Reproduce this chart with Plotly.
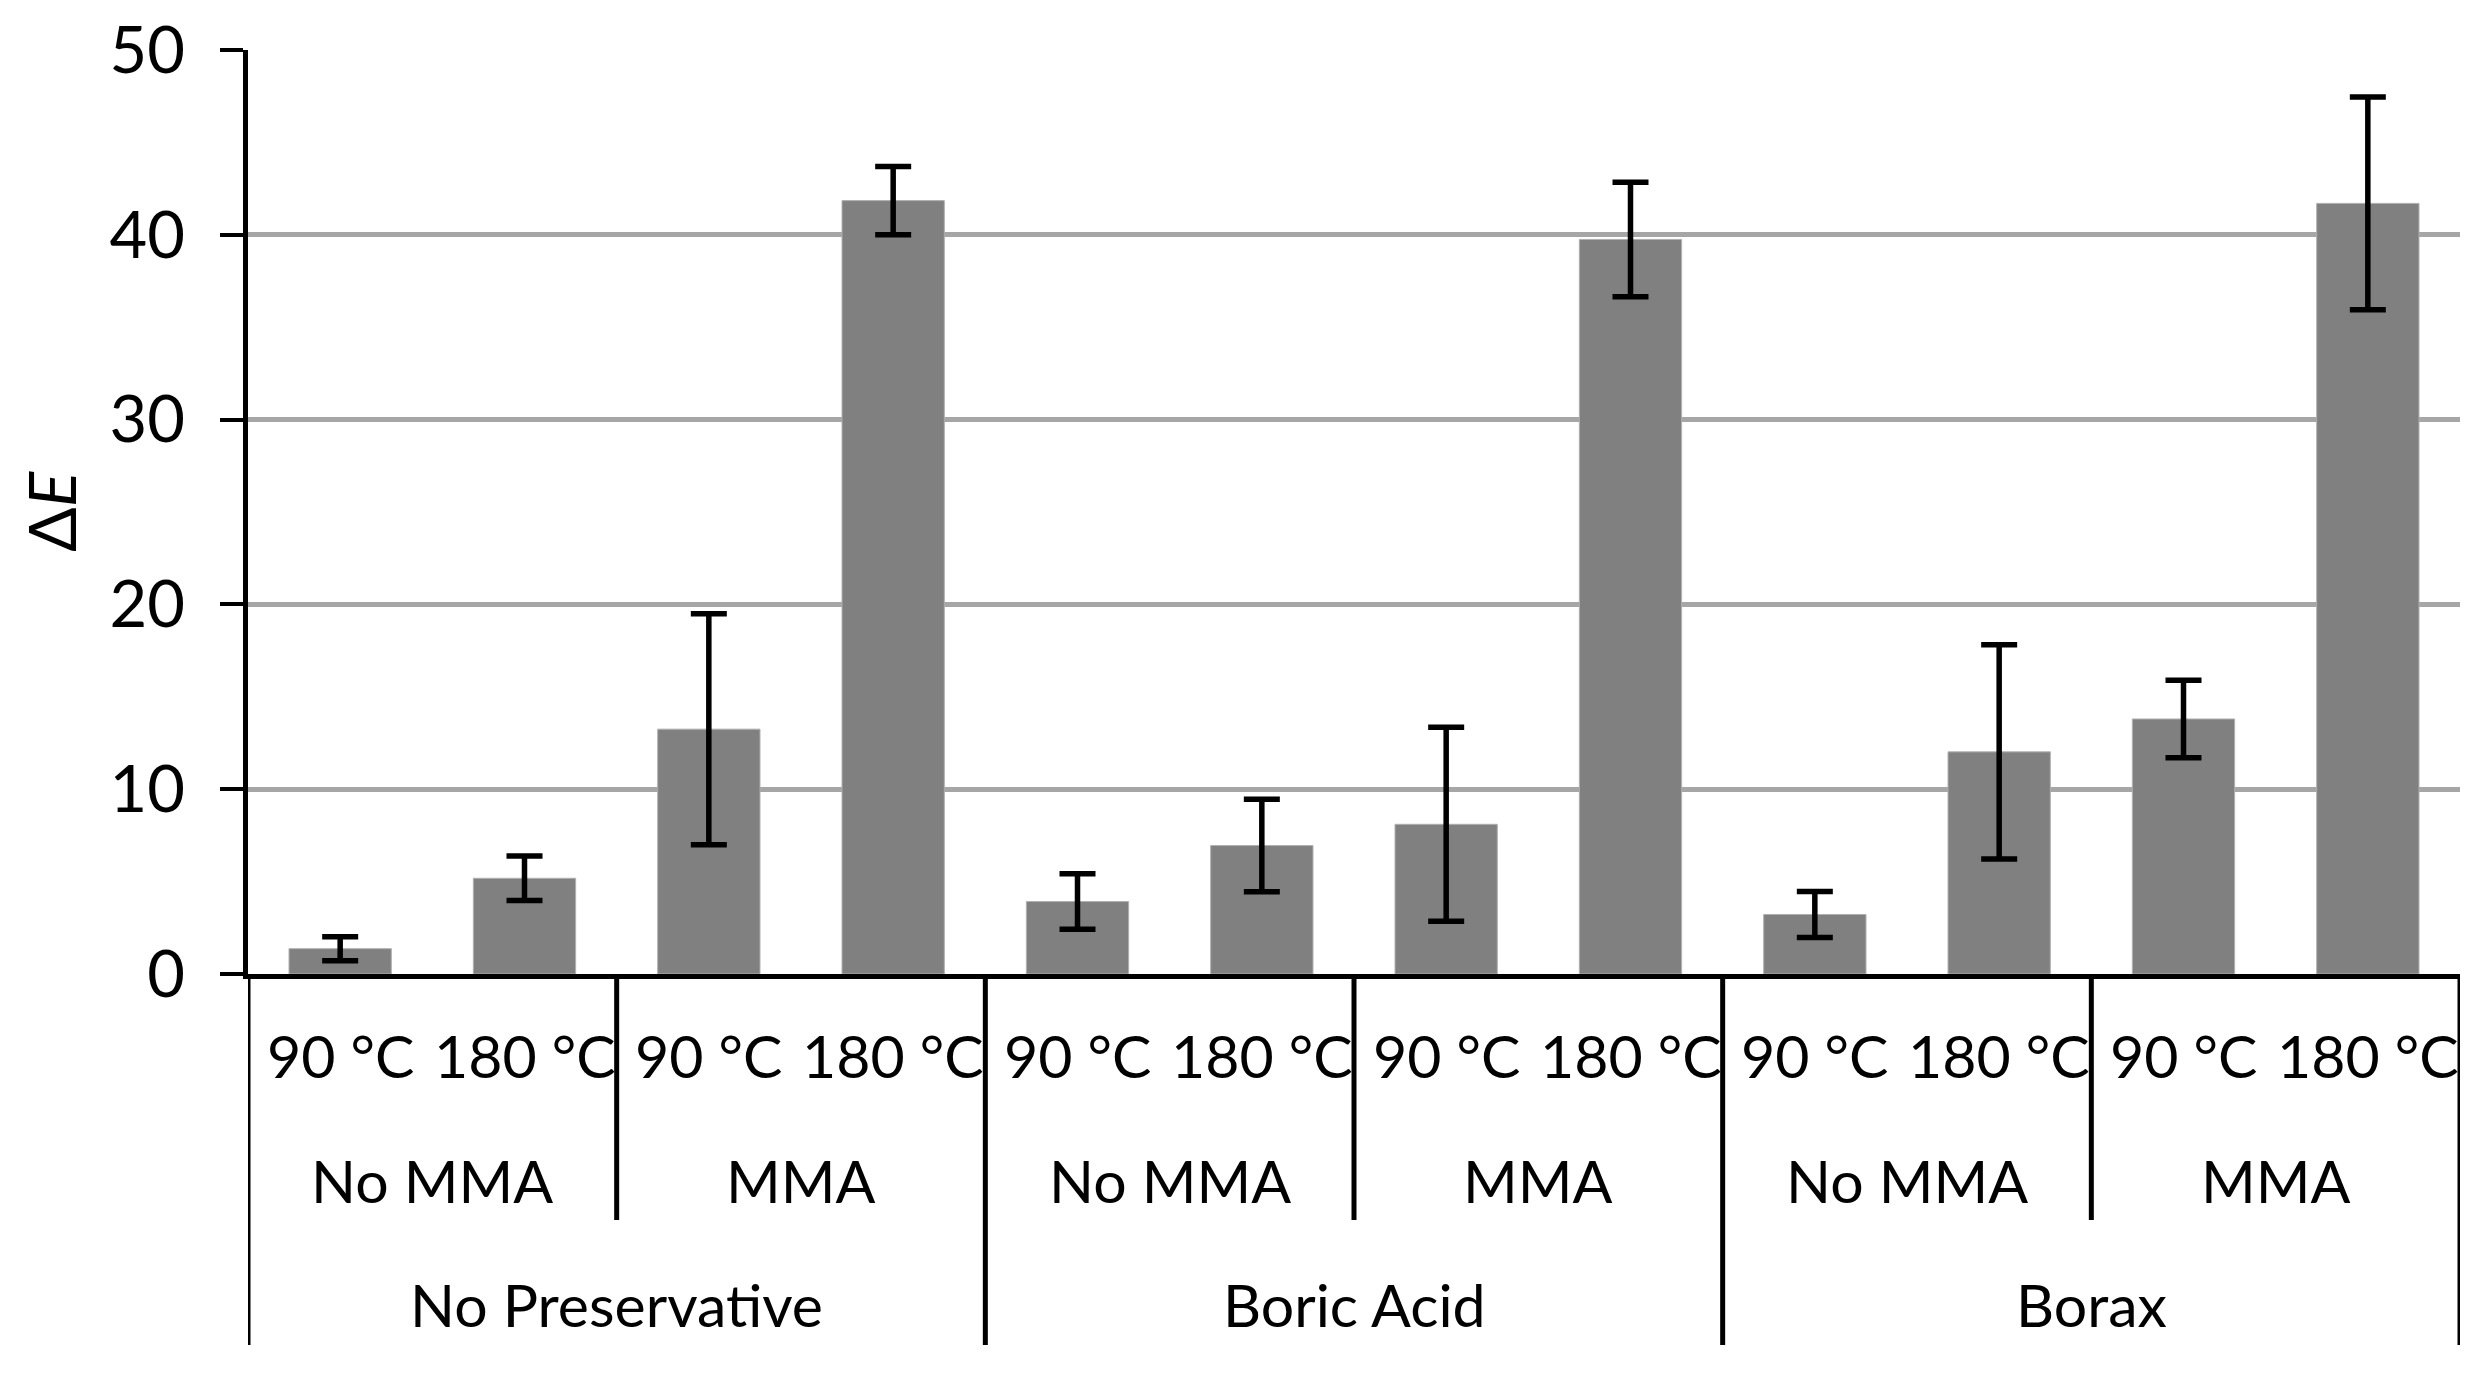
import plotly.graph_objects as go

preservatives = ["No Preservative", "Boric Acid", "Borax"]
mma_groups = ["No MMA", "MMA"]
temperatures = ["90 °C", "180 °C"]

# values in order: preservative > MMA > temperature
delta_e = [1.37, 5.18, 13.25, 41.85,
           3.92, 6.95, 8.10, 39.75,
           3.22, 12.02, 13.80, 41.70]
errors = [0.65, 1.20, 6.25, 1.85,
          1.50, 2.50, 5.25, 3.10,
          1.25, 5.80, 2.10, 5.75]

y_ticks = [0, 10, 20, 30, 40, 50]

FONT = "Lato, 'Open Sans', sans-serif"
FS = 59

n = len(delta_e)
xs = list(range(n))
tick_text = [temperatures[i % 2] for i in xs]

fig = go.Figure()
fig.add_trace(go.Bar(
    x=xs, y=delta_e,
    width=0.555,
    marker=dict(color="#808080", line=dict(color="#b0b0b0", width=1)),
    error_y=dict(type="data", array=errors, visible=True,
                 color="black", thickness=5.5, width=18),
))

# page has an 8px body margin; figure sized to fit inside
OFF = 8
W, H = 2465, 1366
L, R, T, B = 240, 13, 42, 400
ph = H - T - B
pw = W - L - R

def py(pix):
    # page pixel y to paper coordinate
    return (H - B + OFF - pix) / ph

annotations = []
for i in xs:
    annotations.append(dict(x=i, y=py(1055), xref="x", yref="paper", text=tick_text[i],
                            showarrow=False, yanchor="middle", xanchor="center",
                            font=dict(family=FONT, size=FS, color="black")))
for p in range(len(preservatives)):
    for m in range(len(mma_groups)):
        cx = p * 4 + m * 2 + 0.5
        annotations.append(dict(x=cx, y=py(1180), xref="x", yref="paper", text=mma_groups[m],
                                showarrow=False, yanchor="middle", xanchor="center",
                                font=dict(family=FONT, size=FS, color="black")))
for p, name in enumerate(preservatives):
    cx = p * 4 + 1.5
    annotations.append(dict(x=cx, y=py(1304), xref="x", yref="paper", text=name,
                            showarrow=False, yanchor="middle", xanchor="center",
                            font=dict(family=FONT, size=FS, color="black")))
annotations.append(dict(x=(50 - OFF - L) / pw, y=0.5, xref="paper", yref="paper",
                        text="Δ<i>E</i>", textangle=-90, showarrow=False,
                        xanchor="center", yanchor="middle",
                        font=dict(family=FONT, size=66, color="black")))

shapes = []
for p in range(len(preservatives) + 1):
    xb = p * 4 - 0.5
    shapes.append(dict(type="line", xref="x", yref="paper", x0=xb, x1=xb,
                       y0=0, y1=py(1345), line=dict(color="black", width=5)))
for p in range(len(preservatives)):
    xb = p * 4 + 1.5
    shapes.append(dict(type="line", xref="x", yref="paper", x0=xb, x1=xb,
                       y0=0, y1=py(1220), line=dict(color="black", width=5)))

fig.update_layout(
    width=W, height=H,
    margin=dict(l=L, r=R, t=T, b=B),
    paper_bgcolor="white", plot_bgcolor="white",
    showlegend=False,
    bargap=0.445,
    annotations=annotations,
    shapes=shapes,
    xaxis=dict(range=[-0.5, n - 0.5], showticklabels=False, showgrid=False,
               zeroline=False, showline=True, linecolor="black", linewidth=5,
               ticks="", automargin=False),
    yaxis=dict(range=[0, 50], tickvals=y_ticks, showgrid=True, gridcolor="#a6a6a6",
               gridwidth=4.5, zeroline=False, showline=True, linecolor="black",
               linewidth=5, ticks="outside", ticklen=23, tickwidth=4, tickcolor="black",
               ticklabelstandoff=22, automargin=False,
               tickfont=dict(family=FONT, size=65, color="black")),
)

fig.write_html("out.html")
